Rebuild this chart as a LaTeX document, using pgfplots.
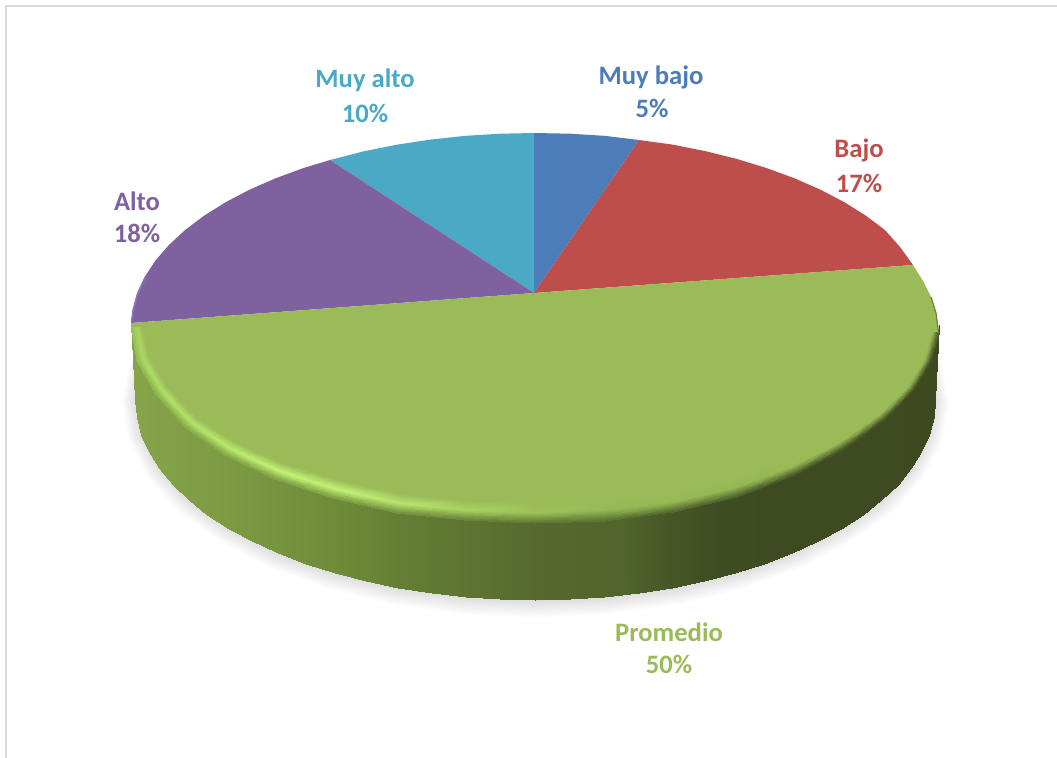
\documentclass[border=0pt]{standalone}
\usepackage{pgfplots}
\usepackage{pgfplotstable}
\usepackage{fontspec}
\setmainfont{Carlito}
\pgfplotsset{compat=1.18}
\definecolor{cBlue}{HTML}{4D7DB9}
\definecolor{cRed}{HTML}{BE4E4B}
\definecolor{cGreen}{HTML}{9BBB59}
\definecolor{cPurple}{HTML}{8061A0}
\definecolor{cCyan}{HTML}{4AA9C4}
\definecolor{cPurpleEdge}{HTML}{8C6FBA}
\definecolor{cDarkEdge}{HTML}{6B8338}
\pgfplotstableread{
x y m
161 332.3 1
143 365.6 1
137 400 1
143 434.4 1
161 467.7 1
190.3 499 1
230.1 527.3 1
279.2 551.7 1
336 571.5 1
398.9 586.1 1
465.9 595 1
535 598 1
604.1 595 1
671.1 586.1 1
734 571.5 1
790.8 551.7 1
839.9 527.3 1
879.7 499 1
909 467.7 1
927 434.4 1
933 400 1
927 365.6 1
909 332.3 1
146 329.5 0
127.3 365.7 0
121 403 0
127.3 440.3 0
146 476.5 0
176.5 510.5 0
217.9 541.2 0
268.9 567.7 0
328 589.2 0
393.4 605 0
463.1 614.7 0
535 618 0
606.9 614.7 0
676.6 605 0
742 589.2 0
801.1 567.7 0
852.1 541.2 0
893.5 510.5 0
924 476.5 0
942.7 440.3 0
949 403 0
942.7 365.7 0
924 329.5 0
}\shadowtab
\pgfplotstableread{
x y
131 319
132.5 335.9
138 352.7
146 369.2
157 385.4
171 402
187 419
206 433
227 447
251 459
277 471
305 481
335 490
366 497
398 503
431 507
465 510
500 512
535 513
570 512
605 510
639 506.4
672 501.3
704 494
735 486
765 476
793 465
819 453
843 440
864 426
883 412
899 397
912 382
923 368
932 354
937 339
939 325
135 400
136.5 417.4
141.1 434.7
148.6 451.8
159.1 468.4
172.5 484.5
188.6 500
207.3 514.7
228.6 528.6
252.2 541.4
277.9 553.2
305.6 563.8
335 573.2
366 581.3
398.2 587.9
431.5 593.2
465.6 597
500.1 599.2
535 600
569.9 599.2
604.4 597
638.5 593.2
671.8 587.9
704 581.3
735 573.2
764.4 563.8
792.1 553.2
817.8 541.4
841.4 528.6
862.7 514.7
881.4 500
897.5 484.5
910.9 468.4
921.4 451.8
928.9 434.7
933.5 417.4
935 400
}\sidetab
\pgfplotstableread{
x y c
143.1 327 rgb=.608,.733,.349
149 357.3 rgb=.608,.733,.349
166.8 386.8 rgb=.608,.733,.349
195.5 417 rgb=.608,.733,.349
234.3 442.2 rgb=.608,.733,.349
282.8 463.8 rgb=.608,.733,.349
339 480.9 rgb=.608,.733,.349
401.1 494.6 rgb=.608,.733,.349
466.9 501 rgb=.608,.733,.349
535 503.6 rgb=.608,.733,.349
603.1 501 rgb=.608,.733,.349
669.1 494.1 rgb=.608,.733,.349
730.9 480.3 rgb=.608,.733,.349
786.9 460.4 rgb=.608,.733,.349
835.2 436.9 rgb=.608,.733,.349
874.4 410.7 rgb=.608,.733,.349
903.2 383.7 rgb=.608,.733,.349
919 358.5 rgb=.608,.733,.349
926.9 332.4 rgb=.608,.733,.349
137.1 327 rgb=.66,.82,.38
143.1 359 rgb=.68,.85,.40
161.1 390.1 rgb=.69,.87,.40
190.2 422 rgb=.70,.89,.41
229.6 448.6 rgb=.73,.92,.43
278.9 471.4 rgb=.76,.95,.46
336 489.5 rgb=.76,.95,.46
399.1 503.8 rgb=.72,.90,.43
465.9 510.5 rgb=.66,.83,.38
535 513.3 rgb=.61,.76,.35
604.1 511 rgb=.58,.72,.33
671.1 503.2 rgb=.58,.72,.33
734 488.7 rgb=.58,.71,.33
790.8 467.7 rgb=.60,.73,.34
839.9 443 rgb=.608,.733,.349
879.7 415.4 rgb=.608,.733,.349
908.9 386.9 rgb=.608,.733,.349
925 360.3 rgb=.608,.733,.349
932.9 332.7 rgb=.608,.733,.349
131 327 rgb=.60,.75,.33
137.1 360.7 rgb=.58,.73,.32
155.4 393.4 rgb=.55,.70,.30
185 427 rgb=.53,.68,.29
225 455 rgb=.52,.66,.28
275 479 rgb=.51,.64,.28
333 498 rgb=.50,.62,.27
397 513 rgb=.46,.57,.25
465 520 rgb=.42,.52,.23
535 523 rgb=.38,.47,.21
605 521 rgb=.36,.45,.20
673 512 rgb=.33,.41,.18
737 497 rgb=.30,.38,.17
795 475 rgb=.28,.35,.15
844.5 449 rgb=.27,.33,.14
884.9 420 rgb=.26,.32,.14
914.6 390 rgb=.25,.30,.13
931 362 rgb=.26,.31,.14
939 333 rgb=.30,.36,.16
}\rimtab
\newcommand{\lab}[4]{\node[text=#1,font=\fontsize{26.7}{32}\selectfont\bfseries,inner sep=0pt,anchor=center] at (axis cs:#2,#3) {#4};}
\begin{document}
\begin{tikzpicture}
\begin{axis}[
  width=1057bp,height=758bp,scale only axis,
  xmin=0,xmax=1057,ymin=0,ymax=758,y dir=reverse,
  hide axis,clip=true,
  point meta rel=per plot,
  colormap={shadowmap}{rgb255(0)=(255,255,255); rgb255(1)=(218,218,218)},
  colormap={sidemap}{rgb255(131)=(134,165,73); rgb255(233)=(124,154,66); rgb255(333)=(111,140,58); rgb255(400)=(100,127,53); rgb255(450)=(95,119,50); rgb255(535)=(86,106,46); rgb255(620)=(81,101,44); rgb255(670)=(70,87,38); rgb255(720)=(62,76,34); rgb255(939)=(62,73,32)},
]
% page
\addplot[fill=white,draw=none,no marks] coordinates {(0,0)(1057,0)(1057,758)(0,758)} --cycle;
% frame
\addplot[draw={rgb,255:red,217;green,217;blue,217},line width=2pt,no marks] coordinates {(5.8,758)(5.8,6)(1057,6)};
% soft shadow
\addplot[surf,shader=interp,colormap name=shadowmap,mesh/rows=2,mesh/cols=23,point meta=\thisrow{m}] table[x=x,y=y] {\shadowtab};
% side wall
\addplot[surf,shader=interp,colormap name=sidemap,mesh/rows=2,mesh/cols=37,point meta=x] table[x=x,y=y] {\sidetab};
% top faces
\addplot[fill=cBlue,draw=none,no marks] coordinates {(534,293)(534,133)(570.2,133.7)(605.2,135.9)(639,140)} --cycle;
\addplot[fill=cRed,draw=none,no marks] coordinates {(534,293)(639,140)(673.2,144.7)(705.7,151.2)(737,159)(766.7,168.1)(794.7,178.4)(820.7,189.8)(844.5,202.3)(865.9,215.7)(884.9,230)(900,247)(913,265)} --cycle;
\addplot[fill=cCyan,draw=none,no marks] coordinates {(534,293)(330,160)(364.3,151.2)(396.8,144.7)(430.4,139.6)(464.8,135.9)(499.8,133.7)(534,133)} --cycle;
\addplot[fill=cPurple,draw=none,no marks] coordinates {(534,293)(131,323)(132.5,310.1)(137.1,293.3)(144.8,276.8)(155.4,260.6)(168.9,245)(185.1,230)(204.1,215.7)(225.5,202.3)(249.3,189.8)(275.3,178.4)(303.3,168.1)(330,160)} --cycle;
\addplot[fill=cGreen,draw=none,no marks] coordinates {(534,293)(913,265)(923,281)(931,297)(936,313)(939,333)(931,362)(914.6,390)(884.9,420)(844.5,449)(795,475)(737,497)(673,512)(605,521)(535,523)(465,520)(397,513)(333,498)(275,479)(225,455)(185,427)(155.4,393.4)(137.1,360.7)(131,327)(131,323)} --cycle;
% bevel on the front edge
\addplot[surf,shader=interp,mesh/rows=3,mesh/cols=19,mesh/color input=explicit,point meta=explicit symbolic] table[x=x,y=y,meta=c] {\rimtab};
% edge tints
\addplot[draw=cPurpleEdge,line width=1.6pt,no marks] coordinates {(131.8,322)(133.3,310.1)(137.9,293.3)(145.6,276.8)};
\addplot[draw=cDarkEdge,line width=1.2pt,no marks] coordinates {(931,297)(936,313)(938.6,333)};
% labels
\lab{cBlue}{651}{77}{Muy bajo}
\lab{cBlue}{652}{108}{5\%}
\lab{cRed}{859}{150}{Bajo}
\lab{cRed}{859}{183}{17\%}
\lab{cPurple}{137}{201}{Alto}
\lab{cPurple}{137}{233}{18\%}
\lab{cCyan}{365}{80}{Muy alto}
\lab{cCyan}{365}{113}{10\%}
\lab{cGreen}{669}{632}{Promedio}
\lab{cGreen}{669}{664}{50\%}
\end{axis}
\end{tikzpicture}
\end{document}
